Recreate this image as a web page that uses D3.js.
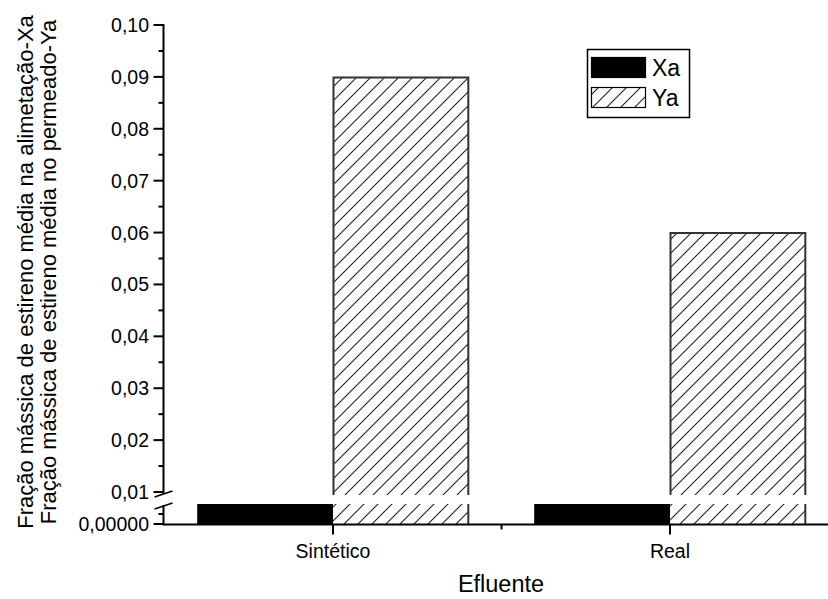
<!DOCTYPE html>
<html>
<head>
<meta charset="utf-8">
<script src="https://cdn.jsdelivr.net/npm/d3@7"></script>
<style>
  body { margin: 0; background: #fff; }
  text { font-family: "Liberation Sans", Arial, sans-serif; fill: #000; }
</style>
</head>
<body>
<svg id="chart" width="828" height="599"></svg>
<script>
// values
const categories = ['Sintético', 'Real'];
const xaValues = [0.0004, 0.0004];
const yaValues = [0.09, 0.06];
const upperTicks = [0.01, 0.02, 0.03, 0.04, 0.05, 0.06, 0.07, 0.08, 0.09, 0.10];
const lowerTicks = [0];
const seriesNames = ['Xa', 'Ya'];

const svg = d3.select('#chart');
const axisX = 163.5, axisY = 524.5;

const x = d3.scaleBand().domain(categories).range([164.5, 838.5]);
const barW = x.bandwidth() * 0.403;
const yUp = d3.scaleLinear().domain([0.01, 0.10]).range([492, 25]);
const yLow = d3.scaleLinear().domain([0, 0.0004]).range([524, 504]);
const upBottom = 495;

// hatch pattern
const defs = svg.append('defs');
const pat = defs.append('pattern')
  .attr('id', 'hatch')
  .attr('patternUnits', 'userSpaceOnUse')
  .attr('width', 14).attr('height', 14);
pat.append('path')
  .attr('d', 'M0,14 L14,0 M-3.5,3.5 L3.5,-3.5 M10.5,17.5 L17.5,10.5')
  .attr('stroke', '#222').attr('stroke-width', 1.1);

// bars
const g = svg.append('g');
categories.forEach(function(c, i) {
  const cx = x(c) + x.bandwidth() / 2;
  // Xa (black, lower segment)
  g.append('rect')
    .attr('x', cx - barW).attr('width', barW)
    .attr('y', yLow(xaValues[i])).attr('height', yLow(0) - yLow(xaValues[i]))
    .attr('fill', '#000');
  // Ya upper part
  const top = yUp(yaValues[i]);
  g.append('rect')
    .attr('x', cx).attr('width', barW)
    .attr('y', top).attr('height', upBottom - top)
    .attr('fill', 'url(#hatch)');
  g.append('path')
    .attr('d', 'M' + (cx + 0.5) + ',' + upBottom + 'V' + (top + 0.5) + 'H' + (cx + barW - 0.5) + 'V' + upBottom)
    .attr('fill', 'none').attr('stroke', '#333').attr('stroke-width', 2);
  // Ya lower part
  g.append('rect')
    .attr('x', cx).attr('width', barW)
    .attr('y', yLow(0.0004)).attr('height', yLow(0) - yLow(0.0004))
    .attr('fill', 'url(#hatch)');
  g.append('line')
    .attr('x1', cx + barW - 0.5).attr('x2', cx + barW - 0.5)
    .attr('y1', yLow(0.0004)).attr('y2', yLow(0))
    .attr('stroke', '#333').attr('stroke-width', 2);
});

// y axis
const ax = svg.append('g').attr('stroke', '#000').attr('stroke-width', 2);
ax.append('line').attr('x1', axisX).attr('x2', axisX).attr('y1', 24).attr('y2', 494);
ax.append('line').attr('x1', axisX).attr('x2', axisX).attr('y1', 505).attr('y2', 525);
upperTicks.forEach(function(t) {
  ax.append('line').attr('x1', axisX - 10).attr('x2', axisX)
    .attr('y1', yUp(t)).attr('y2', yUp(t));
});
d3.range(0.015, 0.1, 0.01).forEach(function(t) {
  ax.append('line').attr('x1', axisX - 5).attr('x2', axisX)
    .attr('y1', yUp(t)).attr('y2', yUp(t));
});
lowerTicks.forEach(function(t) {
  ax.append('line').attr('x1', axisX - 10).attr('x2', axisX)
    .attr('y1', yLow(t)).attr('y2', yLow(t));
});
ax.append('line').attr('x1', axisX - 5).attr('x2', axisX)
  .attr('y1', yLow(0.0002)).attr('y2', yLow(0.0002));
// break marks
ax.append('line').attr('x1', axisX - 9).attr('y1', 497).attr('x2', axisX + 9).attr('y2', 491).attr('stroke-width', 1.5);
ax.append('line').attr('x1', axisX - 9).attr('y1', 509).attr('x2', axisX + 9).attr('y2', 503).attr('stroke-width', 1.5);

const fmt = function(v) { return v.toFixed(2).replace('.', ','); };
svg.append('g').selectAll('text').data(upperTicks).join('text')
  .attr('x', 149).attr('y', function(d) { return yUp(d); })
  .attr('dy', '0.36em').attr('text-anchor', 'end')
  .style('font-size', '19.5px').text(fmt);
svg.append('g').selectAll('text').data(lowerTicks).join('text')
  .attr('x', 149).attr('y', function(d) { return yLow(d); })
  .attr('dy', '0.36em').attr('text-anchor', 'end')
  .style('font-size', '19.5px').text(function(d) { return d.toFixed(5).replace('.', ','); });

// x axis
ax.append('line').attr('x1', axisX - 1).attr('x2', 828).attr('y1', axisY).attr('y2', axisY);
categories.forEach(function(c) {
  const cx = x(c) + x.bandwidth() / 2;
  ax.append('line').attr('x1', cx).attr('x2', cx).attr('y1', axisY).attr('y2', axisY + 10);
});
ax.append('line').attr('x1', x('Real')).attr('x2', x('Real')).attr('y1', axisY).attr('y2', axisY + 5);
svg.append('g').selectAll('text').data(categories).join('text')
  .attr('x', function(d) { return x(d) + x.bandwidth() / 2; })
  .attr('y', 558).attr('text-anchor', 'middle')
  .style('font-size', '19.5px').text(function(d) { return d; });

// axis titles
svg.append('text').attr('x', 501).attr('y', 592).attr('text-anchor', 'middle')
  .style('font-size', '23.5px').text('Efluente');
const yt = svg.append('text').attr('transform', 'translate(33,272) rotate(-90)')
  .attr('text-anchor', 'middle').style('font-size', '22px');
yt.append('tspan').attr('x', 0).attr('y', 0).text('Fração mássica de estireno média na alimetação-Xa');
yt.append('tspan').attr('x', 0).attr('y', 23).text('Fração mássica de estireno média no permeado-Ya');

// legend
const lg = svg.append('g');
lg.append('rect').attr('x', 587.5).attr('y', 49.5).attr('width', 102).attr('height', 68)
  .attr('fill', '#fff').attr('stroke', '#000').attr('stroke-width', 1.5);
seriesNames.forEach(function(n, i) {
  const yy = 57 + i * 30;
  lg.append('rect').attr('x', 591.5).attr('y', yy + 0.5).attr('width', 54).attr('height', 20)
    .attr('fill', i === 0 ? '#000' : 'url(#hatch)')
    .attr('stroke', '#000').attr('stroke-width', 1.2);
  lg.append('text').attr('x', 652).attr('y', yy + 19).style('font-size', '23px').text(n);
});
</script>
</body>
</html>
